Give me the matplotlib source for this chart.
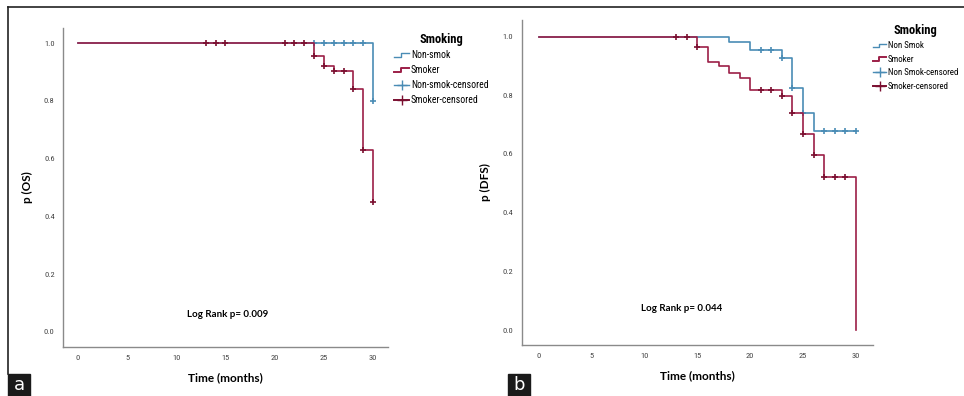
import numpy as np
import matplotlib
matplotlib.use("Agg")
import matplotlib.pyplot as plt
from matplotlib.lines import Line2D
from matplotlib.legend_handler import HandlerBase
from matplotlib.patches import Rectangle
from matplotlib import font_manager


BLUE = "#4a8cb5"
RED = "#9c1f47"
RED_MARK = "#7a0f30"

# condensed font if one is installed
names = {f.name for f in font_manager.fontManager.ttflist}
NARROW = "DejaVu Sans"
for cand in ["Liberation Sans Narrow", "DejaVu Sans Condensed", "Roboto Condensed"]:
    if cand in names:
        NARROW = cand
        break

# ---- panel a : overall survival ----
os_non_times = [0, 30]
os_non_surv = [1.0, 0.80]
os_non_cens = [24, 25, 26, 27, 28, 29, 30]

os_smk_times = [0, 24, 25, 26, 28, 29, 30]
os_smk_surv = [1.0, 0.957, 0.922, 0.902, 0.841, 0.630, 0.451]
os_smk_cens = [13, 14, 15, 21, 22, 23, 24, 25, 26, 27, 28, 29, 30]

# ---- panel b : disease free survival ----
dfs_non_times = [0, 18, 20, 23, 24, 25, 26]
dfs_non_surv = [1.0, 0.981, 0.955, 0.928, 0.826, 0.739, 0.678]
dfs_non_cens = [21, 22, 23, 24, 25, 27, 28, 29, 30]

dfs_smk_times = [0, 15, 16, 17, 18, 19, 20, 23, 24, 25, 26, 27, 30]
dfs_smk_surv = [1.0, 0.966, 0.913, 0.900, 0.875, 0.858, 0.818, 0.799, 0.739,
                0.667, 0.597, 0.523, 0.0]
dfs_smk_cens = [13, 14, 15, 21, 22, 23, 24, 25, 26, 27, 28, 29]

x_ticks = [0, 5, 10, 15, 20, 25, 30]
y_ticks = [0.0, 0.2, 0.4, 0.6, 0.8, 1.0]


class StepHandler(HandlerBase):
    def create_artists(self, legend, orig, xd, yd, w, h, fontsize, trans):
        xs = [xd, xd + w * 0.45, xd + w * 0.45, xd + w]
        ys = [yd + h * 0.2, yd + h * 0.2, yd + h * 0.8, yd + h * 0.8]
        ln = Line2D(xs, ys, color=orig.get_color(), lw=orig.get_linewidth(),
                    transform=trans)
        return [ln]


def km_curve(ax, times, surv, cens, color, mcolor):
    t = list(times)
    s = list(surv)
    if max(cens) > t[-1]:
        t.append(max(cens))
        s.append(s[-1])
    ax.step(t, s, where="post", color=color, lw=1.2)
    idx = np.searchsorted(times, cens, side="right") - 1
    cy = np.array(surv)[idx]
    ax.plot(cens, cy, ls="none", marker="+", ms=5, mew=1.2, color=mcolor)


def setup(ax, ylabel, xlim, ylim):
    ax.set_xlim(*xlim)
    ax.set_ylim(*ylim)
    ax.set_xticks(x_ticks)
    ax.set_yticks(y_ticks)
    ax.set_yticklabels(["{:.1f}".format(v) for v in y_ticks])
    ax.tick_params(length=0, labelsize=6, labelcolor="#444", pad=6)
    for lab in ax.get_xticklabels() + ax.get_yticklabels():
        lab.set_fontfamily(NARROW)
    for sp in ["top", "right"]:
        ax.spines[sp].set_visible(False)
    for sp in ["left", "bottom"]:
        ax.spines[sp].set_color("#8a8a8a")
        ax.spines[sp].set_linewidth(1.0)
    ax.set_xlabel("Time (months)", fontfamily="Lato", fontweight="bold",
                  fontsize=8.5, labelpad=8)
    ax.set_ylabel(ylabel, fontfamily="Lato", fontweight="bold", fontsize=8.5,
                  labelpad=8)


def legend(ax, labels, anchor, size):
    handles = [Line2D([], [], color=BLUE, lw=1.0),
               Line2D([], [], color=RED, lw=1.4),
               Line2D([], [], color=BLUE, marker="+", ms=7, lw=1.0),
               Line2D([], [], color=RED_MARK, marker="+", ms=7, lw=1.4)]
    leg = ax.legend(handles, labels, loc="upper left", bbox_to_anchor=anchor,
                    bbox_transform=ax.figure.transFigure, frameon=False,
                    prop={"family": NARROW, "size": size}, title="Smoking",
                    handlelength=1.5, handletextpad=0.2, labelspacing=0.5,
                    borderpad=0.2,
                    title_fontproperties={"family": NARROW, "weight": "bold",
                                          "size": 9},
                    handler_map={handles[0]: StepHandler(),
                                 handles[1]: StepHandler()})
    return leg


fig = plt.figure(figsize=(9.64, 3.96), dpi=100)

ax1 = fig.add_axes([0.0654, 0.1237, 0.337, 0.806])
km_curve(ax1, os_non_times, os_non_surv, os_non_cens, BLUE, BLUE)
km_curve(ax1, os_smk_times, os_smk_surv, os_smk_cens, RED, RED_MARK)
setup(ax1, "p (OS)", (-1.5, 31.5), (-0.052, 1.053))
ax1.text(15.2, 0.062, "Log Rank p= 0.009", ha="center", va="center",
         fontfamily="Lato", fontweight="bold", fontsize=7)
legend(ax1, ["Non-smok", "Smoker", "Non-smok-censored", "Smoker-censored"],
       (0.402, 0.935), 7)

ax2 = fig.add_axes([0.541, 0.1288, 0.3644, 0.821])
km_curve(ax2, dfs_non_times, dfs_non_surv, dfs_non_cens, BLUE, BLUE)
km_curve(ax2, dfs_smk_times, dfs_smk_surv, dfs_smk_cens, RED, RED_MARK)
setup(ax2, "p (DFS)", (-1.64, 31.6), (-0.051, 1.057))
ax2.text(13.5, 0.075, "Log Rank p= 0.044", ha="center", va="center",
         fontfamily="Lato", fontweight="bold", fontsize=7)
legend(ax2, ["Non Smok", "Smoker", "Non Smok-censored", "Smoker-censored"],
       (0.899, 0.955), 6.4)

# figure frame and panel tags
fig.add_artist(Line2D([8 / 964, 1.0], [1 - 7 / 396, 1 - 7 / 396],
                      transform=fig.transFigure, color="#222", lw=1.2))
fig.add_artist(Line2D([8 / 964, 8 / 964], [1 - 7 / 396, 22 / 396],
                      transform=fig.transFigure, color="#222", lw=1.2))
for x0, tag in [(8, "a"), (508, "b")]:
    fig.add_artist(Rectangle((x0 / 964, 0), 22 / 964, 22 / 396,
                             transform=fig.transFigure, color="#1a1a1a"))
    fig.text((x0 + 11) / 964, 11 / 396, tag, color="white", fontsize=13,
             ha="center", va="center")

fig.savefig("out.png", dpi=100)
